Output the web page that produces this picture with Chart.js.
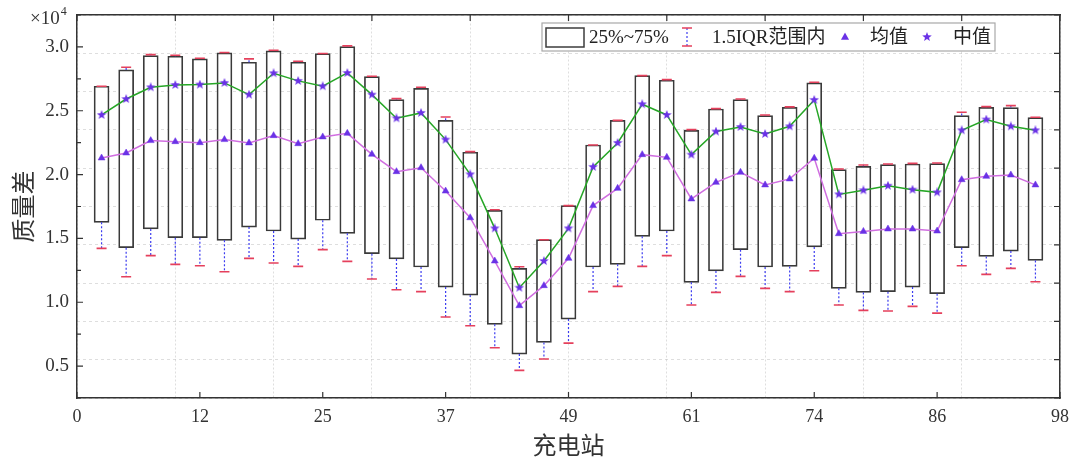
<!DOCTYPE html>
<html lang="zh">

<head>
    <meta charset="UTF-8">
    <title>充电站质量差</title>
    <script src="https://cdn.jsdelivr.net/npm/chart.js"></script>
    <style>
        body {
            margin: 0;
            background: #ffffff;
        }

        .chart-container {
            position: relative;
            width: 1074px;
            height: 461px;
        }
    </style>
</head>

<body>
    <div class="chart-container">
        <canvas id="boxChart"></canvas>
    </div>

    <script>
        // Box plot data per station group (raw values, axis shows x10^4)
        const stations = [1, 2, 3, 4, 5, 6, 7, 8, 9, 10, 11, 12, 13, 14, 15, 16, 17, 18, 19, 20,
            21, 22, 23, 24, 25, 26, 27, 28, 29, 30, 31, 32, 33, 34, 35, 36, 37, 38, 39];
        const upperWhisker = [26920, 28410, 29400, 29350, 29110, 29560, 29060, 29740, 28880, 29480,
            30080, 27700, 25950, 26840, 24510, 21800, 17250, 12780, 14900, 17570,
            22320, 24250, 27750, 27440, 23520, 25170, 25920, 24670, 25300, 27230,
            20440, 20750, 20830, 20880, 20910, 24880, 25320, 25400, 24490];
        const q3 = [26920, 28200, 29320, 29270, 29060, 29530, 28800, 29690, 28800, 29480,
            30030, 27670, 25870, 26760, 24250, 21750, 17200, 12650, 14900, 17570,
            22320, 24250, 27750, 27390, 23470, 25140, 25870, 24620, 25270, 27180,
            20390, 20650, 20780, 20830, 20860, 24620, 25270, 25250, 24460];
        const median = [24670, 25920, 26840, 27020, 27050, 27180, 26260, 27940, 27340, 26920,
            27960, 26260, 24410, 24830, 22740, 20020, 15790, 11140, 13230, 15790,
            20600, 22480, 25510, 24670, 21560, 23370, 23730, 23180, 23780, 25850,
            18450, 18770, 19130, 18820, 18610, 23470, 24310, 23780, 23470];
        const mean = [21300, 21690, 22660, 22580, 22500, 22740, 22480, 23050, 22420, 22950,
            23230, 21590, 20230, 20540, 18710, 16620, 13230, 9730, 11300, 13440,
            17570, 18920, 21560, 21350, 18090, 19390, 20180, 19190, 19660, 21280,
            15370, 15550, 15740, 15740, 15580, 19600, 19860, 19970, 19190];
        const q1 = [16260, 14270, 15740, 15060, 15060, 14850, 15890, 15580, 14950, 16420,
            15400, 13800, 13390, 12760, 11190, 10560, 8270, 5940, 6850, 8680,
            12760, 12970, 15160, 15580, 11560, 12450, 14120, 12760, 12810, 14330,
            11090, 10770, 10830, 11190, 10670, 14270, 13590, 14010, 13280];
        const lowerWhisker = [14220, 12000, 13650, 12970, 12860, 12390, 13440, 13070, 12810, 14120,
            13200, 11820, 10980, 10830, 8840, 8160, 6440, 4660, 5550, 6800,
            10830, 11240, 12810, 13650, 9780, 10770, 12030, 11090, 10830, 12470,
            9780, 9360, 9310, 9680, 9150, 12860, 12180, 12650, 11610];
        const xTickLabels = ['0', '12', '25', '37', '49', '61', '74', '86', '98'];
        const yTickValues = [5000, 10000, 15000, 20000, 25000, 30000];

        const markerColor = '#6a32e6';
        const serif = "'Liberation Serif', 'Noto Sans CJK SC', serif";

        // small filled five-point star used as point style
        function makeStar(size, color) {
            const c = document.createElement('canvas');
            c.width = size;
            c.height = size;
            const g = c.getContext('2d');
            const r = size / 2, ri = r * 0.42;
            g.fillStyle = color;
            g.beginPath();
            for (let k = 0; k < 10; k++) {
                const rad = k % 2 === 0 ? r : ri;
                const ang = -Math.PI / 2 + k * Math.PI / 5;
                g.lineTo(r + rad * Math.cos(ang), r + rad * Math.sin(ang));
            }
            g.closePath();
            g.fill();
            return c;
        }
        const starImg = makeStar(10, markerColor);

        function drawTriangle(ctx, x, y, s) {
            ctx.beginPath();
            ctx.moveTo(x, y - s);
            ctx.lineTo(x + s * 0.9, y + s * 0.6);
            ctx.lineTo(x - s * 0.9, y + s * 0.6);
            ctx.closePath();
            ctx.fill();
        }

        const boxExtras = {
            id: 'boxExtras',
            // whiskers and caps, drawn right after the boxes
            afterDatasetDraw(chart, args) {
                if (args.index !== 0) return;
                const { ctx } = chart;
                const xs = chart.scales.xb, ys = chart.scales.y;
                ctx.save();
                stations.forEach((s, i) => {
                    const px = xs.getPixelForValue(s);
                    ctx.strokeStyle = '#3c3cf0';
                    ctx.lineWidth = 1.2;
                    ctx.setLineDash([2, 2]);
                    ctx.beginPath();
                    ctx.moveTo(px, ys.getPixelForValue(q1[i]));
                    ctx.lineTo(px, ys.getPixelForValue(lowerWhisker[i]));
                    ctx.moveTo(px, ys.getPixelForValue(q3[i]));
                    ctx.lineTo(px, ys.getPixelForValue(upperWhisker[i]));
                    ctx.stroke();
                    ctx.setLineDash([]);
                    ctx.strokeStyle = '#e5405c';
                    ctx.lineWidth = 1.6;
                    ctx.beginPath();
                    [lowerWhisker[i], upperWhisker[i]].forEach(v => {
                        const py = ys.getPixelForValue(v);
                        ctx.moveTo(px - 5, py);
                        ctx.lineTo(px + 5, py);
                    });
                    ctx.stroke();
                });
                ctx.restore();
            },
            afterDraw(chart) {
                const { ctx, chartArea: a } = chart;
                const { x, y, xb, yb } = chart.scales;
                ctx.save();

                // inward tick marks on all four sides
                ctx.strokeStyle = '#333';
                ctx.lineWidth = 1.2;
                ctx.beginPath();
                x.ticks.forEach(t => {
                    const p = x.getPixelForValue(t.value);
                    ctx.moveTo(p, a.bottom);
                    ctx.lineTo(p, a.bottom - 6);
                });
                xb.ticks.forEach(t => {
                    const p = xb.getPixelForValue(t.value);
                    ctx.moveTo(p, a.top);
                    ctx.lineTo(p, a.top + 6);
                });
                for (let v = y.min; v <= y.max; v += 2500) {
                    const p = y.getPixelForValue(v);
                    ctx.moveTo(a.left, p);
                    ctx.lineTo(a.left + (v % 5000 === 0 ? 6 : 4), p);
                }
                yb.ticks.forEach(t => {
                    const p = yb.getPixelForValue(t.value);
                    ctx.moveTo(a.right, p);
                    ctx.lineTo(a.right - 6, p);
                });
                ctx.stroke();

                // exponent label
                ctx.fillStyle = '#333';
                ctx.textBaseline = 'middle';
                ctx.textAlign = 'left';
                ctx.font = '19px ' + serif;
                ctx.fillText('×10', 30, 19);
                const ew = ctx.measureText('×10').width;
                ctx.font = '12px ' + serif;
                ctx.fillText('4', 30 + ew + 1, 12);

                // legend
                const lx = a.right - 518, ly = a.top + 8, lh = 28;
                const cy = ly + lh / 2;
                ctx.fillStyle = '#fff';
                ctx.fillRect(lx, ly, 453, lh);
                ctx.strokeStyle = '#a8a8a8';
                ctx.lineWidth = 1.2;
                ctx.strokeRect(lx, ly, 453, lh);

                ctx.strokeStyle = '#3c3c3c';
                ctx.lineWidth = 1.5;
                ctx.strokeRect(lx + 4, ly + 5, 38, 19);

                ctx.fillStyle = '#222';
                ctx.font = '19px ' + serif;
                ctx.fillText('25%~75%', lx + 47, cy + 1);

                const wx = lx + 145;
                ctx.strokeStyle = '#3c3cf0';
                ctx.lineWidth = 1.2;
                ctx.setLineDash([2, 2]);
                ctx.beginPath();
                ctx.moveTo(wx, ly + 5);
                ctx.lineTo(wx, ly + 23);
                ctx.stroke();
                ctx.setLineDash([]);
                ctx.strokeStyle = '#e5405c';
                ctx.lineWidth = 1.6;
                ctx.beginPath();
                ctx.moveTo(wx - 5, ly + 5);
                ctx.lineTo(wx + 5, ly + 5);
                ctx.moveTo(wx - 5, ly + 23);
                ctx.lineTo(wx + 5, ly + 23);
                ctx.stroke();

                ctx.fillStyle = '#222';
                ctx.fillText('1.5IQR范围内', lx + 170, cy + 1);

                ctx.fillStyle = markerColor;
                drawTriangle(ctx, lx + 303, cy, 4.5);
                ctx.fillStyle = '#222';
                ctx.fillText('均值', lx + 328, cy + 1);

                ctx.drawImage(starImg, lx + 380, cy - 5);
                ctx.fillStyle = '#222';
                ctx.fillText('中值', lx + 411, cy + 1);

                ctx.restore();
            }
        };

        const gridLine = {
            color: 'rgba(0, 0, 0, 0.13)',
            lineWidth: 1,
            drawTicks: false,
            offset: false
        };
        const frame = { display: true, color: '#333', width: 1.5 };

        new Chart(document.getElementById('boxChart'), {
            type: 'bar',
            data: {
                datasets: [{
                    type: 'bar',
                    label: '25%~75%',
                    data: stations.map((s, i) => ({ x: s, y: [q1[i], q3[i]] })),
                    xAxisID: 'xb',
                    yAxisID: 'y',
                    backgroundColor: '#ffffff',
                    borderColor: '#3a3a3a',
                    borderWidth: 1.7,
                    borderSkipped: false,
                    barThickness: 15,
                    order: 3
                }, {
                    type: 'line',
                    label: '中值',
                    data: stations.map((s, i) => ({ x: s, y: median[i] })),
                    xAxisID: 'xb',
                    yAxisID: 'y',
                    borderColor: '#26a626',
                    borderWidth: 1.5,
                    pointStyle: starImg,
                    pointRadius: 5,
                    tension: 0,
                    order: 1
                }, {
                    type: 'line',
                    label: '均值',
                    data: stations.map((s, i) => ({ x: s, y: mean[i] })),
                    xAxisID: 'xb',
                    yAxisID: 'y',
                    borderColor: '#d06ee0',
                    borderWidth: 1.5,
                    pointStyle: 'triangle',
                    pointRadius: 4,
                    pointBackgroundColor: markerColor,
                    pointBorderColor: markerColor,
                    pointBorderWidth: 0.5,
                    tension: 0,
                    order: 2
                }]
            },
            options: {
                responsive: true,
                maintainAspectRatio: false,
                animation: false,
                layout: { padding: 0 },
                plugins: {
                    legend: { display: false },
                    tooltip: { enabled: false }
                },
                scales: {
                    x: {
                        type: 'linear',
                        position: 'bottom',
                        min: 0,
                        max: 98,
                        offset: false,
                        grid: { display: false, drawTicks: false, offset: false },
                        border: frame,
                        ticks: {
                            stepSize: 12.25,
                            padding: 8,
                            color: '#333',
                            font: { size: 18, family: serif },
                            maxRotation: 0,
                            callback: (v, i) => xTickLabels[i]
                        },
                        title: {
                            display: true,
                            text: '充电站',
                            color: '#333',
                            font: { size: 24, family: "'Noto Sans CJK SC'" },
                            padding: { top: 0, bottom: 2 }
                        },
                        afterFit: s => {
                            s.height = 63;
                            s.paddingLeft = 0;
                            s.paddingRight = 0;
                        }
                    },
                    xb: {
                        type: 'linear',
                        position: 'top',
                        min: 0,
                        max: 40,
                        offset: false,
                        grid: gridLine,
                        border: Object.assign({ dash: [2, 2] }, frame),
                        ticks: { display: false, stepSize: 4 },
                        afterFit: s => { s.height = 15; }
                    },
                    y: {
                        type: 'linear',
                        position: 'left',
                        min: 2500,
                        max: 32500,
                        grid: { display: false, drawTicks: false },
                        border: frame,
                        afterBuildTicks: s => {
                            s.ticks = yTickValues.map(v => ({ value: v }));
                        },
                        ticks: {
                            padding: 8,
                            color: '#333',
                            font: { size: 19, family: serif },
                            callback: v => (v / 10000).toFixed(1)
                        },
                        title: {
                            display: true,
                            text: '质量差',
                            color: '#333',
                            font: { size: 24, family: "'Noto Sans CJK SC'" },
                            padding: { top: 8, bottom: 0 }
                        },
                        afterFit: s => {
                            s.width = 77;
                            s.paddingTop = 0;
                            s.paddingBottom = 0;
                        }
                    },
                    yb: {
                        type: 'linear',
                        position: 'right',
                        min: 0,
                        max: 10,
                        grid: gridLine,
                        border: Object.assign({ dash: [3, 3] }, frame),
                        ticks: { display: false, stepSize: 1 },
                        afterFit: s => { s.width = 14; }
                    }
                }
            },
            plugins: [boxExtras]
        });
    </script>
</body>

</html>
